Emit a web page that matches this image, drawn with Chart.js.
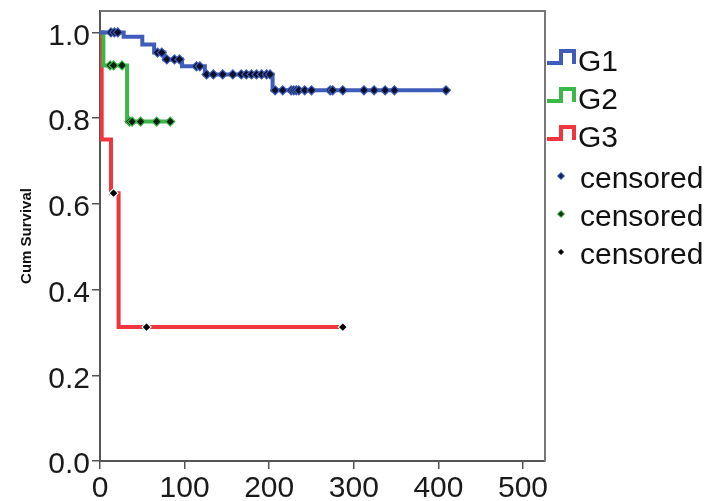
<!DOCTYPE html>
<html>
<head>
<meta charset="utf-8">
<script src="https://cdn.jsdelivr.net/npm/chart.js@4.4.0/dist/chart.umd.min.js"></script>
<style>
  html, body { margin: 0; padding: 0; background: #fff; }
  #wrap { width: 721px; height: 501px; }
</style>
</head>
<body>
<div id="wrap"><canvas id="kmChart" width="721" height="501"></canvas></div>
<script>
// Kaplan-Meier steps (time, cum survival)
const g1Times = [0, 28, 50, 64, 76, 97, 124, 204, 409];
const g1Surv = [1.0, 0.99, 0.972, 0.953, 0.937, 0.921, 0.902, 0.865, 0.865];
const g2Times = [0, 4, 32, 83];
const g2Surv = [1.0, 0.923, 0.792, 0.792];
const g3Times = [0, 2, 13, 22, 287];
const g3Surv = [1.0, 0.75, 0.625, 0.3125, 0.3125];

// censored cases
const g1CensTimes = [13, 17, 21, 68, 73, 79, 88, 94, 114, 118,
  126, 134, 145, 157, 167, 173, 179, 185, 191, 197, 201,
  207, 216, 226, 229, 232, 235, 242, 250, 272, 275, 287, 312, 324, 337, 348, 409];
const g1CensSurv = [1.0, 1.0, 1.0, 0.953, 0.953, 0.937, 0.937, 0.937, 0.921, 0.921,
  0.902, 0.902, 0.902, 0.902, 0.902, 0.902, 0.902, 0.902, 0.902, 0.902, 0.902,
  0.865, 0.865, 0.865, 0.865, 0.865, 0.865, 0.865, 0.865, 0.865, 0.865, 0.865, 0.865, 0.865, 0.865, 0.865, 0.865];
const g2CensTimes = [12, 16, 26, 35, 38, 48, 67, 83];
const g2CensSurv = [0.923, 0.923, 0.923, 0.792, 0.792, 0.792, 0.792, 0.792];
const g3CensTimes = [16, 55, 287];
const g3CensSurv = [0.625, 0.3125, 0.3125];

const groupNames = ['G1', 'G2', 'G3'];
const censLabel = 'censored';
const xTicks = [0, 100, 200, 300, 400, 500];
const yTicks = [0, 0.2, 0.4, 0.6, 0.8, 1.0];

const blue = 'rgb(62, 92, 186)';
const green = 'rgb(58, 184, 72)';
const red = 'rgb(240, 53, 62)';

const toPts = (xs, ys) => xs.map((x, i) => ({x: x, y: ys[i]}));

const stepLine = (label, xs, ys, color, order) => ({
  type: 'line',
  label: label,
  data: toPts(xs, ys),
  stepped: 'before',
  borderColor: color,
  backgroundColor: color,
  borderWidth: 4,
  pointRadius: 0,
  fill: false,
  order: order
});

const censMarks = (xs, ys, fillCol, edgeCol, r) => ({
  type: 'scatter',
  label: censLabel,
  data: toPts(xs, ys),
  pointStyle: 'rectRot',
  pointRadius: r,
  pointBackgroundColor: fillCol,
  pointBorderColor: edgeCol,
  pointBorderWidth: 1.2,
  showLine: false,
  order: 0
});

// legend drawn by hand to get the little step icons
const kmLegend = {
  id: 'kmLegend',
  afterDraw(chart) {
    const ctx = chart.ctx;
    const rows = [62, 100, 138, 180, 218, 256];
    const cols = [blue, green, red];
    ctx.save();
    ctx.font = '30px "Liberation Sans", Arial, sans-serif';
    ctx.fillStyle = '#111';
    ctx.textBaseline = 'middle';
    ctx.textAlign = 'left';
    groupNames.forEach((name, i) => {
      const y = rows[i];
      ctx.strokeStyle = cols[i];
      ctx.lineWidth = 4;
      ctx.lineJoin = 'miter';
      ctx.beginPath();
      ctx.moveTo(547, y + 1);
      ctx.lineTo(561, y + 1);
      ctx.lineTo(561, y - 11);
      ctx.lineTo(574, y - 11);
      ctx.lineTo(574, y + 2);
      ctx.stroke();
      ctx.fillText(name, 578, y + 1);
    });
    const dFill = ['#14245e', '#0f3a16', '#000'];
    const dEdge = [blue, green, '#000'];
    const dSize = [3.5, 3.5, 2.5];
    for (let i = 0; i < 3; i++) {
      const y = rows[3 + i];
      const s = dSize[i];
      ctx.beginPath();
      ctx.moveTo(561, y - 4 - s);
      ctx.lineTo(561 + s, y - 4);
      ctx.lineTo(561, y - 4 + s);
      ctx.lineTo(561 - s, y - 4);
      ctx.closePath();
      ctx.fillStyle = dFill[i];
      ctx.fill();
      ctx.lineWidth = 1;
      ctx.strokeStyle = dEdge[i];
      ctx.stroke();
      ctx.fillStyle = '#111';
      ctx.fillText(censLabel, 580, y);
    }
    ctx.restore();
  }
};

// top and right edges of the plot frame
const plotFrame = {
  id: 'plotFrame',
  beforeDatasetsDraw(chart) {
    const {ctx, chartArea: a} = chart;
    ctx.save();
    ctx.strokeStyle = '#777';
    ctx.lineWidth = 2;
    ctx.beginPath();
    ctx.moveTo(a.left, a.top);
    ctx.lineTo(a.right, a.top);
    ctx.lineTo(a.right, a.bottom);
    ctx.stroke();
    ctx.restore();
  }
};

const tickFont = {family: '"Liberation Sans", Arial, sans-serif', size: 30};

const config = {
  type: 'line',
  data: {
    datasets: [
      censMarks(g1CensTimes, g1CensSurv, '#0b0f2a', blue, 4.5),
      censMarks(g2CensTimes, g2CensSurv, '#0b200e', green, 4.5),
      censMarks(g3CensTimes, g3CensSurv, '#000', '#fff', 4.5),
      stepLine(groupNames[0], g1Times, g1Surv, blue, 1),
      stepLine(groupNames[1], g2Times, g2Surv, green, 2),
      stepLine(groupNames[2], g3Times, g3Surv, red, 3)
    ]
  },
  options: {
    responsive: false,
    animation: false,
    layout: {padding: {top: 11, right: 176, bottom: 0, left: 0}},
    scales: {
      x: {
        type: 'linear',
        min: 0,
        max: 526,
        afterBuildTicks: s => { s.ticks = xTicks.map(v => ({value: v})); },
        afterFit: s => { s.height = 40; s.paddingLeft = 0; s.paddingRight = 0; },
        ticks: {font: tickFont, color: '#1a1a1a', padding: 2, maxRotation: 0},
        grid: {display: true, drawOnChartArea: false, drawTicks: true, tickLength: 8, color: '#555', lineWidth: 1.5},
        border: {display: true, color: '#555', width: 2}
      },
      y: {
        type: 'linear',
        min: 0,
        max: 1.05,
        afterBuildTicks: s => { s.ticks = yTicks.map(v => ({value: v})); },
        afterFit: s => { s.width = 100; s.paddingTop = 0; s.paddingBottom = 0; },
        ticks: {font: tickFont, color: '#1a1a1a', padding: 2, labelOffset: 4, callback: v => v.toFixed(1)},
        grid: {display: true, drawOnChartArea: false, drawTicks: true, tickLength: 8, color: '#555', lineWidth: 1.5},
        border: {display: true, color: '#555', width: 2},
        title: {
          display: true,
          text: 'Cum Survival',
          font: {family: 'Arial, "Liberation Sans", sans-serif', size: 15, weight: 'bold'},
          color: '#111',
          padding: {top: 18, bottom: 0}
        }
      }
    },
    plugins: {
      legend: {display: false},
      tooltip: {enabled: false}
    }
  },
  plugins: [plotFrame, kmLegend]
};

const ctx = document.getElementById('kmChart').getContext('2d');
const kmChart = new Chart(ctx, config);
</script>
</body>
</html>
